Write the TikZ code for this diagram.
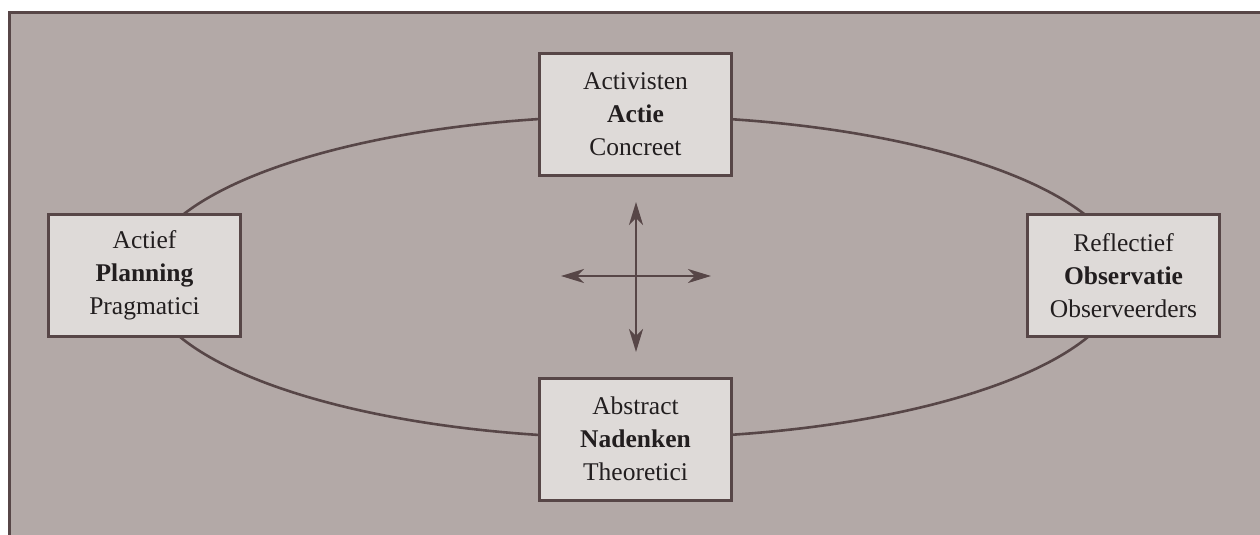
\documentclass[tikz,border=0pt]{standalone}
\usepackage{fontspec}
\setmainfont{Liberation Serif}
\usetikzlibrary{arrows.meta}
\definecolor{bgc}{HTML}{B3A9A7}
\definecolor{linec}{HTML}{574647}
\definecolor{boxc}{HTML}{DEDAD8}
\definecolor{txtc}{HTML}{221E1F}
\tikzset{
  stagebox/.style={draw=linec, line width=3pt, fill=boxc, minimum width=192pt, minimum height=122pt,
    align=center, inner sep=0pt, text=txtc, font=\fontsize{25.5}{33}\selectfont},
  crossarrow/.style={draw=linec, line width=2.4pt, {Stealth[length=23pt,width=14pt,inset=7pt]}-{Stealth[length=23pt,width=14pt,inset=7pt]}}
}
\begin{document}
\begin{tikzpicture}[x=1pt,y=-1pt]
\useasboundingbox (0,0) rectangle (1260,535);
\fill[white] (0,0) rectangle (1260,535);
\begin{scope}
\clip (0,0) rectangle (1260,535);
\draw[linec, line width=3pt, fill=bgc] (9.5,12.5) rectangle (1280,560);
\end{scope}
\draw[linec, line width=2.6pt] (634,277) ellipse [x radius=489pt, y radius=161pt];
\node[stagebox] (top) at (635.5,114.5) {Activisten\\\textbf{Actie}\\Concreet};
\node[stagebox] (bottom) at (635.5,439) {Abstract\\\textbf{Nadenken}\\Theoretici};
\node[stagebox] (left) at (144.5,275.5) {Actief\\\textbf{Planning}\\Pragmatici};
\node[stagebox] (right) at (1123.5,275.5) {Reflectief\\\textbf{Observatie}\\Observeerders};
\coordinate (vtop) at (636,202);
\coordinate (vbot) at (636,352);
\coordinate (hleft) at (561,276);
\coordinate (hright) at (711,276);
\draw[crossarrow] (vtop) -- (vbot);
\draw[crossarrow] (hleft) -- (hright);
\end{tikzpicture}
\end{document}
